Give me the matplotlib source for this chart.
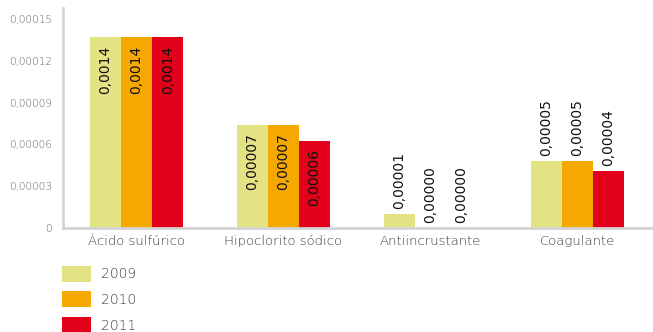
import matplotlib
matplotlib.use("Agg")
import matplotlib.pyplot as plt
import numpy as np

# data
categories = ["Ácido sulfúrico", "Hipoclorito sódico", "Antiincrustante", "Coagulante"]
years = ["2009", "2010", "2011"]
values_2009 = [0.000137, 0.0000739, 0.0000100, 0.0000481]
values_2010 = [0.000137, 0.0000739, 0.0, 0.0000481]
values_2011 = [0.000137, 0.0000624, 0.0, 0.0000409]
labels_2009 = ["0,0014", "0,00007", "0,00001", "0,00005"]
labels_2010 = ["0,0014", "0,00007", "0,00000", "0,00005"]
labels_2011 = ["0,0014", "0,00006", "0,00000", "0,00004"]
yticks = [0, 0.00003, 0.00006, 0.00009, 0.00012, 0.00015]
ytick_labels = ["0", "0,00003", "0,00006", "0,00009", "0,00012", "0,00015"]

colors = ["#e3e384", "#f5a800", "#e2001a"]
plt.rcParams["font.family"] = ["DejaVu Sans"]

fig = plt.figure(figsize=(6.53, 3.32), dpi=100)
ax = fig.add_axes([0.0965, 0.313, 0.9, 0.663])

series = [values_2009, values_2010, values_2011]
series_labels = [labels_2009, labels_2010, labels_2011]
x = np.arange(len(categories))
width = 0.212

for i, (vals, labs) in enumerate(zip(series, series_labels)):
    pos = x + (i - 1) * width
    ax.bar(pos, vals, width, color=colors[i], label=years[i], zorder=2)
    for px, v, lab in zip(pos, vals, labs):
        if v > 0.00006:
            # label inside the bar, hanging from the top
            ax.annotate(lab, (px, v), xytext=(0, -6), textcoords="offset points",
                        rotation=90, ha="center", va="top", fontsize=10, color="#111111")
        else:
            ax.annotate(lab, (px, v), xytext=(0, 3.5), textcoords="offset points",
                        rotation=90, ha="center", va="bottom", fontsize=10, color="#111111")

ax.set_xlim(-0.5, 3.5)
ax.set_ylim(0, 0.000158)
ax.set_yticks(yticks)
ax.set_yticklabels(ytick_labels, fontsize=7.5, color="#606060", fontweight="light")
ax.set_xticks(x)
ax.set_xticklabels(categories, fontsize=9.5, color="#3c3c3c", fontweight="light")
ax.tick_params(axis="both", length=0)
ax.tick_params(axis="x", pad=5)
ax.tick_params(axis="y", pad=8)

for s in ["top", "right"]:
    ax.spines[s].set_visible(False)
for s in ["left", "bottom"]:
    ax.spines[s].set_color("#d4d4d4")
    ax.spines[s].set_linewidth(2)

leg = fig.legend(loc="upper left", bbox_to_anchor=(0.095, 0.2), frameon=False,
                 fontsize=10, labelcolor="#3c3c3c", handlelength=2.09, handleheight=1.39,
                 labelspacing=0.7, handletextpad=0.72, borderpad=0, borderaxespad=0)
for t in leg.get_texts():
    t.set_fontweight("light")

fig.savefig("out.png", dpi=100)
